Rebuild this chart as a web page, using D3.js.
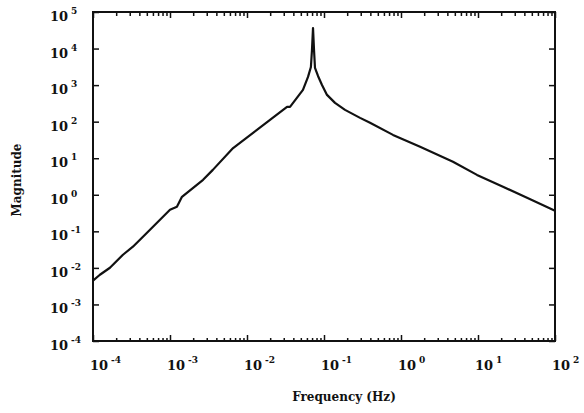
<!DOCTYPE html>
<html>
<head>
<meta charset="utf-8">
<script src="https://cdn.jsdelivr.net/npm/d3@7"></script>
<style>
body { margin: 0; background: #fff; }
svg text { font-family: "DejaVu Serif", serif; font-weight: bold; fill: #111; }
</style>
</head>
<body>
<div id="the_chart"></div>
<script>
// frequency response
var freq = [1e-4, 1.23e-4, 1.66e-4, 2.45e-4, 3.3e-4, 5.5e-4, 1.0e-3, 1.23e-3, 1.43e-3,
	2.69e-3, 3.6e-3, 6.6e-3, 0.0199, 0.0331, 0.0362, 0.0533, 0.062, 0.0676, 0.0698,
	0.072, 0.0742, 0.0764, 0.0836, 0.0942, 0.1094, 0.139, 0.1875, 0.294, 0.396, 0.787, 1.77,
	4.73, 9.7, 21.1, 43.3, 100];
var mag = [0.0045, 0.0065, 0.0101, 0.0229, 0.038, 0.111, 0.39, 0.47, 0.88,
	2.57, 4.8, 19, 112, 254, 254, 740, 1675, 3140, 9100,
	36500, 9100, 2950, 1780, 1010, 540, 327, 210, 127, 93, 43.5, 20.5,
	8.0, 3.5, 1.66, 0.83, 0.366];
var xExp = [-4, -3, -2, -1, 0, 1, 2];
var yExp = [-4, -3, -2, -1, 0, 1, 2, 3, 4, 5];

var w = 584, h = 413;
var pLeft = 93, pRight = 555, pTop = 12, pBottom = 341;

var svg = d3.select("#the_chart")
	.append("svg")
	.attr("width", w)
	.attr("height", h);

var xscale = d3.scaleLog().domain([1e-4, 1e2]).range([pLeft, pRight]);
var yscale = d3.scaleLog().domain([1e-4, 1e5]).range([pBottom, pTop]);

var majorX = xExp.map(function(e) { return Math.pow(10, e); });
var majorY = yExp.map(function(e) { return Math.pow(10, e); });
var minorX = [];
xExp.slice(0, -1).forEach(function(e) {
	for (var k = 2; k <= 9; k++) minorX.push(k * Math.pow(10, e));
});

function tickAxis(axis, values, size, tr) {
	svg.append("g")
		.attr("transform", tr)
		.call(axis.tickValues(values).tickSizeInner(size).tickSizeOuter(0).tickFormat(""))
		.call(function(g) { g.select(".domain").remove(); })
		.selectAll("line").attr("stroke", "#111").attr("stroke-width", 1.5);
}

// inward ticks
tickAxis(d3.axisBottom(xscale), majorX, -6, "translate(0," + pBottom + ")");
tickAxis(d3.axisBottom(xscale), minorX, -3, "translate(0," + pBottom + ")");
tickAxis(d3.axisTop(xscale), majorX, -6, "translate(0," + pTop + ")");
tickAxis(d3.axisTop(xscale), minorX, -4, "translate(0," + pTop + ")");
tickAxis(d3.axisLeft(yscale), majorY, -6, "translate(" + pLeft + ",0)");
tickAxis(d3.axisRight(yscale), majorY, -6, "translate(" + pRight + ",0)");

// frame
svg.append("rect")
	.attr("x", pLeft).attr("y", pTop)
	.attr("width", pRight - pLeft).attr("height", pBottom - pTop)
	.attr("fill", "none")
	.attr("stroke", "#111")
	.attr("stroke-width", 2);

// curve
var line = d3.line()
	.x(function(d, i) { return xscale(freq[i]); })
	.y(function(d, i) { return yscale(mag[i]); });

svg.append("path")
	.datum(mag)
	.attr("d", line)
	.attr("fill", "none")
	.attr("stroke", "#111")
	.attr("stroke-width", 2.2)
	.attr("stroke-linejoin", "round");

// tick labels as 10 with superscript
function powLabel(sel) {
	sel.append("tspan").text("10");
	sel.append("tspan")
		.attr("dx", 3)
		.attr("dy", -7)
		.attr("font-size", 9)
		.text(function(d) { return d; });
}

svg.selectAll(".xl")
	.data(xExp)
	.enter().append("text")
	.attr("class", "xl")
	.attr("x", function(d) { return xscale(Math.pow(10, d)) - 3; })
	.attr("y", 370)
	.attr("font-size", 13)
	.call(powLabel);

svg.selectAll(".yl")
	.data(yExp)
	.enter().append("text")
	.attr("class", "yl")
	.attr("x", 50)
	.attr("y", function(d) { return yscale(Math.pow(10, d)) + 9; })
	.attr("font-size", 13)
	.call(powLabel);

// axis titles
svg.append("text")
	.attr("x", 344)
	.attr("y", 401)
	.attr("text-anchor", "middle")
	.attr("font-size", 12)
	.text("Frequency (Hz)");

svg.append("text")
	.attr("transform", "translate(21,180) rotate(-90)")
	.attr("text-anchor", "middle")
	.attr("font-size", 12)
	.text("Magnitude");
</script>
</body>
</html>
